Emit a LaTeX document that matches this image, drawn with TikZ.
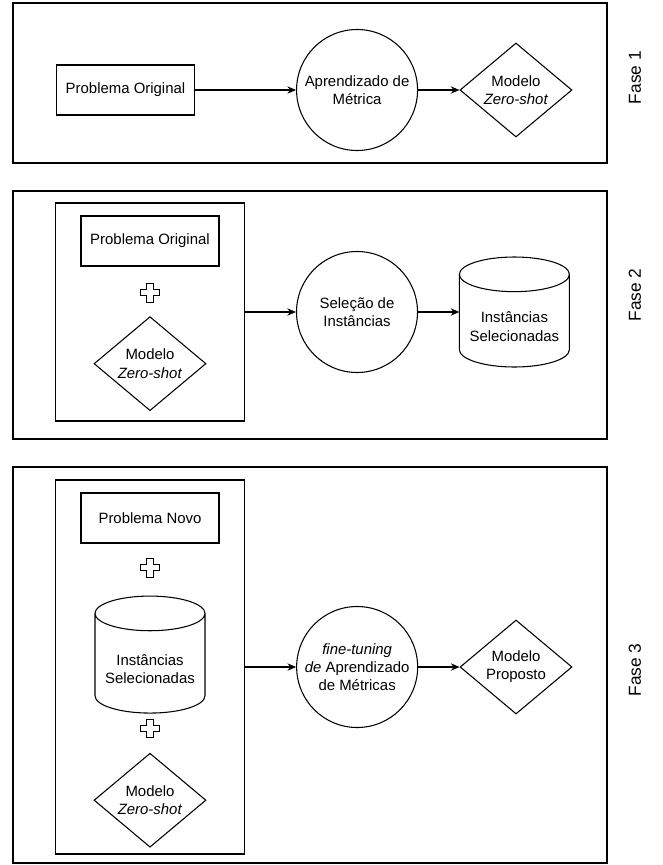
\documentclass[tikz,border=0pt]{standalone}
\usepackage{fontspec}
\setsansfont{Liberation Sans}
\usepackage{tikz}
\usetikzlibrary{arrows.meta,positioning,shapes.geometric}

\begin{document}
\begin{tikzpicture}[
    x=0.75pt, y=-0.75pt,
    font=\sffamily\fontsize{11.2}{13.6}\selectfont,
    phasebox/.style={draw=black, line width=0.8pt, minimum width=445.5pt, inner sep=0pt},
    groupbox/.style={draw=black, line width=0.8pt, minimum width=142pt, inner sep=0pt},
    procbox/.style={draw=black, line width=0.8pt, minimum width=103.5pt, minimum height=37.5pt, align=center},
    stagecircle/.style={draw=black, line width=0.8pt, circle, minimum size=90.75pt, inner sep=0pt, align=center},
    modeldiamond/.style={draw=black, line width=0.8pt, diamond, aspect=1.19, minimum width=84pt, minimum height=70.5pt, inner sep=0pt, align=center},
    datacyl/.style={minimum width=82.5pt, minimum height=82.5pt, inner sep=0pt, outer sep=0pt, align=center,
      append after command={\pgfextra{
        \draw[line width=0.8pt] ([yshift=-13pt]\tikzlastnode.north west) -- ([yshift=13pt]\tikzlastnode.south west)
          arc[start angle=180, end angle=360, x radius=41.25pt, y radius=13pt]
          -- ([yshift=-13pt]\tikzlastnode.north east)
          arc[start angle=0, end angle=180, x radius=41.25pt, y radius=13pt]
          arc[start angle=180, end angle=360, x radius=41.25pt, y radius=13pt];}}},
    plussign/.style={minimum size=16pt, inner sep=0pt,
      path picture={\draw[line width=0.7pt] ([shift={(-2.3pt,7pt)}]path picture bounding box.center)
        -- ++(4.6pt,0) -- ++(0,-4.7pt) -- ++(4.7pt,0) -- ++(0,-4.6pt) -- ++(-4.7pt,0) -- ++(0,-4.7pt)
        -- ++(-4.6pt,0) -- ++(0,4.7pt) -- ++(-4.7pt,0) -- ++(0,4.6pt) -- ++(4.7pt,0) -- cycle;}},
    phaselabel/.style={rotate=90, font=\sffamily\fontsize{13}{15}\selectfont},
    flow/.style={-{Stealth[length=6.5pt, width=5.5pt]}, line width=0.8pt, draw=black}
  ]
    \useasboundingbox (0,0) rectangle (663,865);

    % Fase 1
    \node[phasebox, minimum height=120pt] (frame1) at (310,83) {};
    \node[phaselabel] (fase1) at (635,77.5) {Fase 1};
    \node[procbox] (p1orig) at (125.5,90) {Problema Original};
    \node[stagecircle, right=75.75pt of p1orig] (p1metric) {Aprendizado de\\Métrica};
    \node[modeldiamond, right=31pt of p1metric] (p1zero) {Modelo\\\textit{Zero-shot}};

    % Fase 2
    \node[phasebox, minimum height=186pt] (frame2) at (310,315) {};
    \node[phaselabel] (fase2) at (635,295) {Fase 2};
    \node[groupbox, minimum height=163.5pt] (inner2) at (150.25,312) {};
    \node[procbox] (p2orig) at (150,241) {Problema Original};
    \node[plussign, below=11.5pt of p2orig] (p2plus) {};
    \node[modeldiamond, below=9.3pt of p2plus] (p2zero) {Modelo\\\textit{Zero-shot}};
    \node[stagecircle, right=37.9pt of inner2] (p2sel) {Seleção de\\Instâncias};
    \node[datacyl, right=31pt of p2sel] (p2inst) {\rule{0pt}{30pt}Instâncias\\Selecionadas};

    % Fase 3
    \node[phasebox, minimum height=297pt] (frame3) at (310,665) {};
    \node[phaselabel] (fase3) at (635,670) {Fase 3};
    \node[groupbox, minimum height=280.5pt] (inner3) at (150.25,667) {};
    \node[procbox] (p3new) at (150,518) {Problema Novo};
    \node[plussign, below=10pt of p3new] (p3plusa) {};
    \node[datacyl, minimum height=87.75pt, below=13pt of p3plusa] (p3inst) {\rule{0pt}{30pt}Instâncias\\Selecionadas};
    \node[plussign, below=3.3pt of p3inst] (p3plusb) {};
    \node[modeldiamond, below=10pt of p3plusb] (p3zero) {Modelo\\\textit{Zero-shot}};
    \node[stagecircle, right=38pt of inner3] (p3tune) {\textit{fine-tuning}\\\textit{de} Aprendizado\\de Métricas};
    \node[modeldiamond, right=31pt of p3tune] (p3prop) {Modelo\\Proposto};

    \draw[flow] (p1orig) -- (p1metric);
    \draw[flow] (p1metric) -- (p1zero);
    \draw[flow] (inner2) -- (p2sel);
    \draw[flow] (p2sel) -- (p2inst);
    \draw[flow] (inner3) -- (p3tune);
    \draw[flow] (p3tune) -- (p3prop);

  \end{tikzpicture}
\end{document}
